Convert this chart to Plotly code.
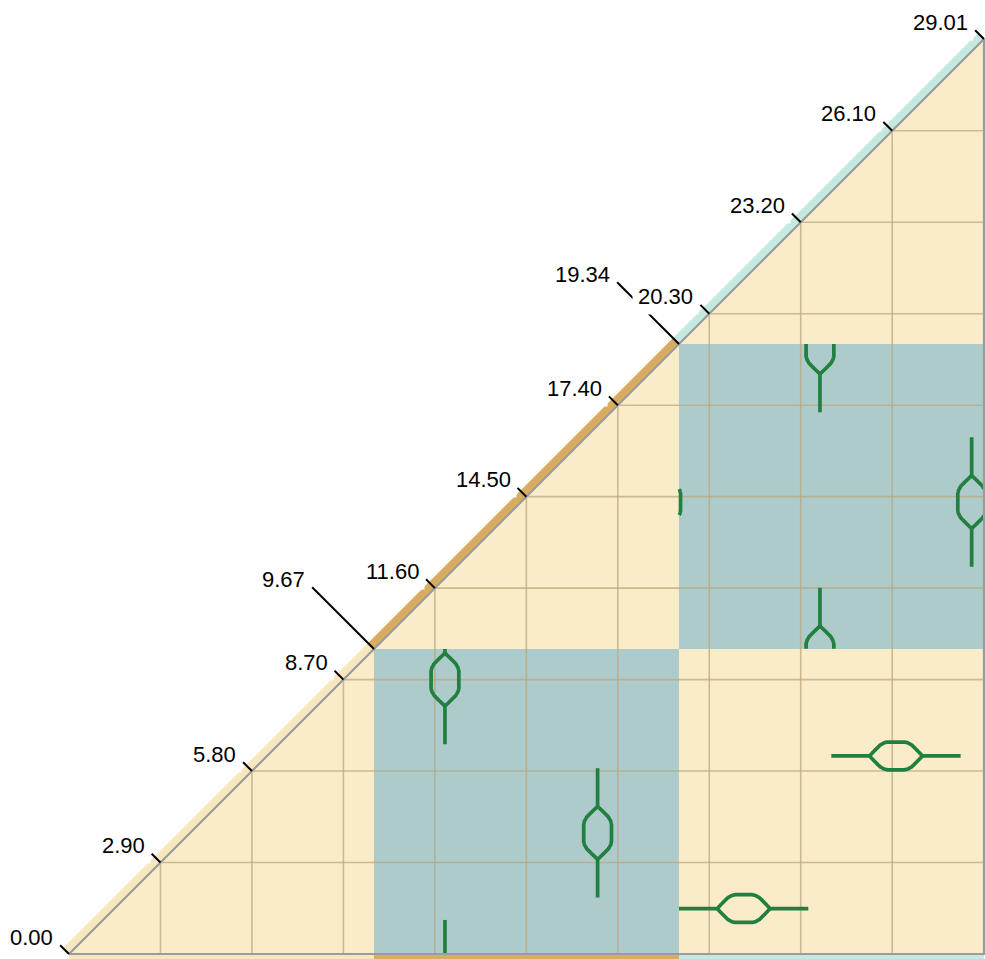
import math
import numpy as np
import plotly.graph_objects as go

# ---------------- data ----------------
seg_bounds = [0.00, 9.67, 19.34, 29.01]          # segment boundaries along the diagonal
seg_strip_colors = ["#f7e6be", "#d9ad5f", "#c5e8e2"]
grid_ticks = [2.90, 5.80, 8.70, 11.60, 14.50, 17.40, 20.30, 23.20, 26.10]
grid_labels = ["2.90", "5.80", "8.70", "11.60", "14.50", "17.40", "20.30", "23.20", "26.10"]
boundary_labels = ["0.00", "9.67", "19.34", "29.01"]

# glyphs (violin-like marks) : block column (x segment), block row (y segment), centre, orientation
glyph_col = [1, 1, 2, 2, 2, 2]
glyph_row = [0, 0, 1, 1, 0, 0]
glyph_x = [11.92, 16.76, 23.81, 28.62, 26.22, 21.39]
glyph_y = [8.70, 3.84, 19.23, 14.33, 6.28, 1.44]
glyph_dir = ["v", "v", "v", "v", "h", "h"]

# ---------------- layout constants ----------------
W, H = 985, 959
X0_PX, Y0_PX, SCALE = 69, 954, 31.54
XR = [-X0_PX / SCALE, (W - X0_PX) / SCALE]
YR = [-(H - Y0_PX) / SCALE, Y0_PX / SCALE]

BEIGE = "#faebc9"
TEAL = "#aecbcb"
GREEN = "#21803f"
GRID = "rgba(186,166,124,0.72)"
OUTLINE = "#9b9b9b"

L_TOTAL, L_LENS, HALF_W = 4.10, 1.68, 0.44
prof_t = [0, 0.10, 0.20, 0.28, 0.34, 0.66, 0.72, 0.80, 0.90, 1]
prof_w = [0, 0.40, 0.78, 0.95, 1, 1, 0.95, 0.78, 0.40, 0]

LO, HI = seg_bounds[0], seg_bounds[-1]

fig = go.Figure()
shapes = []

# lower-right triangle background
shapes.append(dict(type="path", path=f"M {LO},{LO} L {HI},{LO} L {HI},{HI} Z",
                   fillcolor=BEIGE, line=dict(width=0), layer="below"))
# off-diagonal blocks (checkerboard)
for c in range(3):
    for r in range(c):
        if (c + r) % 2 == 1:
            shapes.append(dict(type="rect", x0=seg_bounds[c], x1=seg_bounds[c + 1],
                               y0=seg_bounds[r], y1=seg_bounds[r + 1],
                               fillcolor=TEAL, line=dict(width=0), layer="below"))
# strips along the diagonal and under the bottom edge
sw = 0.19
for i in range(3):
    a, b = seg_bounds[i], seg_bounds[i + 1]
    shapes.append(dict(type="path",
                       path=f"M {a},{a} L {b},{b} L {b - sw},{b + sw} L {a - sw},{a + sw} Z",
                       fillcolor=seg_strip_colors[i], line=dict(width=0), layer="below"))
    shapes.append(dict(type="rect", x0=a, x1=b, y0=-0.6, y1=0,
                       fillcolor=seg_strip_colors[i], line=dict(width=0), layer="below"))

# grid lines
gx, gy = [], []
for g in grid_ticks:
    gx += [g, g, None]
    gy += [LO, g, None]
    gx += [g, HI, None]
    gy += [g, g, None]
fig.add_trace(go.Scatter(x=gx, y=gy, mode="lines", line=dict(color=GRID, width=1.6),
                         hoverinfo="skip", showlegend=False))


# glyphs
def densify(pts, step=0.01):
    out = [pts[0]]
    for (x1, y1), (x2, y2) in zip(pts[:-1], pts[1:]):
        n = max(1, int(math.ceil(math.hypot(x2 - x1, y2 - y1) / step)))
        for k in range(1, n + 1):
            out.append((x1 + (x2 - x1) * k / n, y1 + (y2 - y1) * k / n))
    return out


def glyph_polylines(cx, cy, d):
    a0, l0, a1 = -L_TOTAL / 2, -L_LENS / 2, L_TOTAL / 2
    upper = [(l0 + t * L_LENS, w * HALF_W) for t, w in zip(prof_t, prof_w)]
    lower = [(l0 + t * L_LENS, -w * HALF_W) for t, w in zip(prof_t, prof_w)]
    lines_uv = [[(a0, 0)] + upper + [(a1, 0)], lower]
    res = []
    for ln in lines_uv:
        if d == "v":
            res.append([(cx + v, cy + u) for u, v in ln])
        else:
            res.append([(cx + u, cy + v) for u, v in ln])
    return res


kx, ky = [], []
for cx, cy, d, c, r in zip(glyph_x, glyph_y, glyph_dir, glyph_col, glyph_row):
    bx0, bx1 = seg_bounds[c], seg_bounds[c + 1]
    by0, by1 = seg_bounds[r], seg_bounds[r + 1]
    bw, bh = bx1 - bx0, by1 - by0
    for ln in glyph_polylines(cx, cy, d):
        dense = densify(ln)
        for ox in (-bw, 0, bw):
            for oy in (-bh, 0, bh):
                seg = []
                for (x, y) in dense:
                    x2, y2 = x + ox, y + oy
                    if bx0 <= x2 <= bx1 and by0 <= y2 <= by1:
                        seg.append((x2, y2))
                    else:
                        if len(seg) > 1:
                            # keep only corner points of the kept run (plus ends)
                            kx.extend([p[0] for p in seg] + [None])
                            ky.extend([p[1] for p in seg] + [None])
                        seg = []
                if len(seg) > 1:
                    kx.extend([p[0] for p in seg] + [None])
                    ky.extend([p[1] for p in seg] + [None])
fig.add_trace(go.Scatter(x=kx, y=ky, mode="lines",
                         line=dict(color=GREEN, width=3.7, simplify=False),
                         hoverinfo="skip", showlegend=False))

# outline of the triangle
fig.add_trace(go.Scatter(x=[LO, HI, HI, LO], y=[LO, LO, HI, LO], mode="lines",
                         line=dict(color=OUTLINE, width=2.2), hoverinfo="skip", showlegend=False))

# ticks and labels along the diagonal
tick_vals = grid_ticks + seg_bounds
tick_text = grid_labels + boundary_labels
tx, ty = [], []
annotations = []
for v, lab in zip(tick_vals, tick_text):
    long_tick = v in seg_bounds[1:-1]
    dd = 1.96 if long_tick else 0.28
    tx += [v, v - dd, None]
    ty += [v, v + dd, None]
    annotations.append(dict(x=v - dd, y=v + dd, xref="x", yref="y", text=lab,
                            showarrow=False, xanchor="right", yanchor="middle",
                            xshift=-1, yshift=8, bgcolor="white", borderpad=5,
                            font=dict(family="Liberation Sans, Arial", size=22, color="black")))
fig.add_trace(go.Scatter(x=tx, y=ty, mode="lines", line=dict(color="black", width=2.0),
                         hoverinfo="skip", showlegend=False))

fig.update_layout(
    width=W, height=H, autosize=False,
    margin=dict(l=0, r=0, t=0, b=0, pad=0),
    paper_bgcolor="white", plot_bgcolor="white",
    shapes=shapes, annotations=annotations, showlegend=False,
    xaxis=dict(range=XR, visible=False, fixedrange=True),
    yaxis=dict(range=YR, visible=False, fixedrange=True),
)
fig.write_html("out.html")
